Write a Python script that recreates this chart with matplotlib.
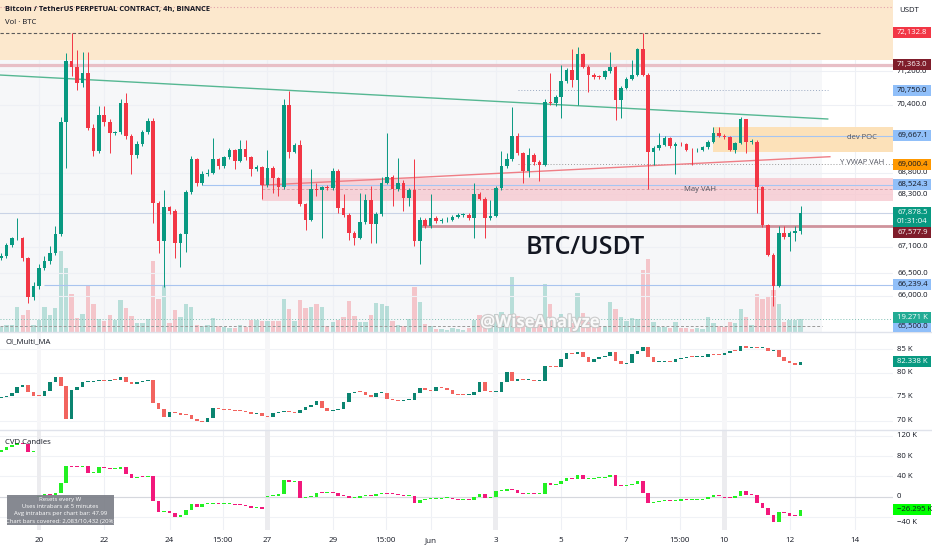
import numpy as np
import matplotlib.pyplot as plt
from matplotlib.patches import Rectangle
from matplotlib.lines import Line2D
from matplotlib.ticker import NullLocator
import matplotlib.patheffects as pe

plt.rcParams['font.family'] = ['Open Sans', 'DejaVu Sans']

W, H = 932, 550
AXIS_X = 893          # right price scale starts here (px)
TXT = '#131722'

# 4h bars, index 0 = 20 May 00:00
bar_start = -7
first_open = 66850
closes = [66880, 67130, 67290, 67290, 66850, 65970, 66210,
          66620, 66780, 66950, 67380, 69980, 71440, 71305, 70910, 71150, 69860,
          69300, 70150, 69980, 69740, 69750, 70450, 69650, 69210, 69470, 69750,
          70010, 68110, 67240, 68010, 67920, 67190, 67380, 68350, 69120, 68570,
          68780, 68800, 69110, 68950, 69160, 69320, 69080, 69360, 69160, 68880,
          68930, 68520, 68920, 68670, 68470, 70390, 69280, 69450, 68070, 67720,
          68420, 68400, 68470, 68440, 68850, 67990, 67820, 67420, 67300, 67670,
          68160, 67620, 67850, 68570, 68700, 68420, 68570, 68220, 68390, 67240,
          67720, 67570, 67750, 67690, 67700, 67720, 67780, 67820, 67830, 67750,
          68300, 68200, 67760, 67800, 68440, 68950, 69120, 69650, 69260, 68850,
          69210, 69050, 68990, 70470, 70430, 70575, 70965, 71225, 70985, 71605,
          71305, 71120, 71065, 71055, 71195, 71305, 70510, 70810, 71015, 71120,
          71730, 71120, 69280, 69380, 69450, 69610, 69420, 69470, 69460, 69340,
          69320, 69340, 69390, 69520, 69720, 69670, 69630, 69340, 69490, 70050,
          69520, 69530, 68480, 67590, 66920, 66220, 67420, 67320, 67420, 67450,
          67878.5]
highs = [66950, 67180, 67330, 67750, 67320, 66870, 66300,
         66700, 66900, 67120, 67580, 70100, 71650, 72130, 71715, 71660, 71660,
         69950, 70380, 70380, 70050, 69780, 70530, 70680, 69700, 69550, 69800,
         70080, 70080, 68150, 68390, 68030, 67960, 67420, 68400, 69180, 69150,
         68830, 68880, 69620, 69150, 69200, 69380, 69350, 69570, 69570, 69200,
         68980, 68960, 69320, 68950, 68700, 70530, 70720, 69500, 69570, 68100,
         68880, 68570, 68500, 68520, 68920, 68880, 68300, 67860, 67450, 68340,
         68300, 68490, 67900, 68690, 69720, 68740, 69150, 68620, 68440, 69110,
         67780, 67760, 68300, 67800, 67760, 67770, 67830, 67870, 67880, 67860,
         68570, 68350, 68230, 68180, 68500, 69300, 69250, 70340, 69720, 69290,
         69380, 69250, 69100, 70540, 71150, 70620, 71350, 71270, 71750, 71790,
         71630, 71350, 71160, 71115, 71240, 71670, 71330, 70850, 71060, 71470,
         71770, 72130, 71160, 69420, 69720, 69650, 69640, 69510, 69510, 69490,
         69370, 69370, 69420, 69560, 69880, 69880, 69700, 69650, 69520, 70110,
         70070, 69600, 69560, 68500, 67620, 66960, 67570, 67570, 67450, 67570,
         68030]
lows = [66800, 66840, 67100, 67250, 66780, 65840, 65900,
        66150, 66580, 66700, 66920, 67350, 68920, 71090, 70750, 70830, 69800,
        69190, 69250, 69900, 69260, 69680, 69700, 69600, 68760, 69150, 69420,
        69700, 67650, 66950, 66190, 67850, 66840, 66650, 66990, 68300, 68490,
        68520, 68720, 68760, 68880, 68900, 69120, 68880, 69050, 69100, 68720,
        68850, 68190, 68480, 68340, 68260, 68420, 69150, 69250, 68030, 67490,
        67680, 68260, 67290, 68400, 68400, 67880, 67780, 67260, 67150, 67270,
        67620, 67190, 67190, 67800, 68540, 68030, 68380, 67920, 68040, 67110,
        66720, 67530, 67530, 67640, 67650, 67670, 67690, 67760, 67790, 67710,
        67300, 68160, 67300, 67720, 67780, 68400, 68900, 69080, 69220, 68570,
        68700, 68990, 68610, 68950, 70400, 70370, 70090, 70910, 70830, 70400,
        71270, 70710, 71015, 71005, 71025, 71160, 70040, 70080, 70770, 70985,
        71080, 71080, 68420, 68990, 69340, 69420, 69380, 68760, 69420, 69300,
        68980, 69290, 69310, 69360, 69500, 69640, 69600, 69300, 69260, 69460,
        69260, 69480, 67880, 67550, 66880, 65760, 66190, 67280, 67000, 67220,
        67380]
volume_k = [8, 11, 11, 38, 26, 33, 11,
            18, 38, 26, 36, 122, 96, 57, 21, 27, 69,
            42, 20, 17, 26, 18, 48, 36, 24, 14, 14,
            20, 107, 50, 69, 14, 33, 23, 42, 38, 11,
            9, 11, 21, 9, 8, 6, 6, 11, 8, 18,
            18, 17, 17, 17, 17, 50, 35, 17, 48, 36,
            37, 42, 38, 9, 15, 18, 23, 47, 24, 15,
            15, 26, 44, 42, 39, 17, 11, 9, 20, 68,
            45, 12, 9, 5, 5, 3, 6, 5, 3, 6,
            18, 26, 24, 12, 27, 30, 23, 83, 24, 15,
            12, 17, 15, 72, 42, 15, 27, 18, 14, 59,
            29, 15, 9, 9, 9, 45, 35, 23, 17, 21,
            20, 93, 110, 15, 8, 8, 6, 15, 6, 6,
            5, 6, 5, 23, 14, 9, 8, 15, 14, 35,
            23, 11, 57, 50, 53, 63, 42, 15, 18, 18,
            19.271]

oi_first_open = 74.81
oi_closes = [75.02, 75.16, 75.72, 76.98, 77.39, 76.07, 75.23,
             75.09, 76.28, 78.02, 79.07, 77.25, 70.35, 76.50, 77.00, 78.02, 78.16,
             78.30, 78.44, 78.37, 78.58, 78.44, 79.21, 78.02, 77.74, 78.02, 78.30,
             78.58, 73.63, 72.44, 70.84, 71.75, 71.54, 71.19, 71.12, 70.28, 70.00,
             69.72, 70.49, 72.58, 72.37, 72.23, 72.16, 72.02, 71.95, 71.75, 71.47,
             71.54, 71.05, 70.77, 71.61, 71.88, 72.09, 71.82, 71.54, 72.23, 72.79,
             73.28, 74.12, 72.58, 72.02, 72.23, 72.44, 73.84, 75.86, 76.07, 76.00,
             75.37, 74.88, 75.72, 75.86, 74.53, 74.26, 74.05, 74.33, 74.36, 75.86,
             76.77, 76.42, 76.28, 77.12, 76.84, 76.42, 75.51, 75.30, 75.28, 75.37,
             76.07, 78.02, 76.21, 75.93, 76.00, 78.16, 80.11, 78.30, 78.65, 78.51,
             78.53, 78.30, 78.32, 81.51, 81.16, 81.14, 82.83, 84.09, 83.95, 84.44,
             83.25, 82.35, 82.83, 83.39, 83.53, 84.30, 82.55, 81.79, 81.99, 83.95,
             84.65, 85.48, 83.39, 82.21, 82.35, 82.55, 82.35, 82.90, 83.04, 83.39,
             83.25, 83.37, 83.40, 83.88, 83.74, 83.67, 84.09, 84.65, 84.58, 85.62,
             85.27, 85.45, 85.27, 85.30, 84.58, 84.79, 83.25, 82.55, 81.99, 81.65,
             82.338]

cvd_first_open = 88.6
cvd_closes = [91.8, 97.1, 101.7, 105.0, 103.0, 87.2, 90.5,
              1.3, 5.2, 3.3, 6.6, 27.6, 60.4, 59.0, 58.4, 59.7, 45.9,
              47.2, 57.7, 55.8, 53.8, 55.1, 59.0, 44.6, 36.1, 39.4, 38.7,
              40.7, -7.9, -29.5, -29.0, -32.8, -39.4, -36.1, -26.2, -14.4, -19.7,
              -15.1, -14.4, -13.1, -15.1, -14.4, -14.2, -16.4, -17.1, -17.7, -21.6,
              -21.0, -24.9, 1.3, 2.0, 4.6, 32.8, 29.5, 31.5, -2.0, 0.0,
              0.3, 6.6, 6.4, 7.9, 6.6, 2.0, 1.9, -3.3, -3.1, 2.0,
              3.3, 2.0, 4.6, 7.2, 5.2, 4.6, 3.3, 1.3, 1.4, -11.8,
              -6.6, -5.2, -4.6, -4.5, -3.3, -3.2, -4.6, -5.9, -5.9, -6.0,
              0.0, 4.6, -2.0, 0.0, 11.2, 11.8, 14.4, 13.1, 7.9, 5.2,
              5.3, 5.2, 5.2, 27.6, 22.3, 24.3, 30.8, 36.1, 34.8, 42.6,
              34.1, 34.8, 36.7, 37.4, 38.7, 42.6, 21.6, 21.0, 22.3, 24.9,
              31.5, 7.9, -11.8, -9.8, -8.5, -7.2, -8.5, -7.9, -5.2, -6.6,
              -6.6, -5.9, -5.2, -1.3, 2.6, 1.3, -2.0, -3.3, 2.0, 11.2,
              3.3, 3.2, -11.8, -23.0, -36.1, -50.5, -29.5, -32.8, -37.4, -38.0,
              -26.295]
cvd_resets = [0, 42, 84, 126]   # weekly reset bars

date_ticks = [0, 12, 24, 33.75, 42, 54, 63.75, 72, 84, 96, 108, 117.75, 126, 138, 150]
date_labels = ['20', '22', '24', '15:00', '27', '29', '15:00', 'Jun', '3', '5', '7',
               '15:00', '10', '12', '14']

price_ticks = [71200, 70400, 68800, 68300, 67100, 66500, 66000]
oi_ticks = [85, 80, 75, 70]
cvd_ticks = [120, 80, 40, 0, -40]

UP, DOWN = '#089981', '#f23645'

bars = np.arange(bar_start, bar_start + len(closes))


def opens_from(first, cl, resets=()):
    op = [first] + list(cl[:-1])
    for r in resets:
        op[r - bar_start] = 0.0
    return np.array(op, dtype=float)


def draw_candles(ax, x, o, c, hi=None, lo=None, up=UP, down=DOWN, width=0.66, min_body=0.0):
    o = np.asarray(o, dtype=float)
    c = np.asarray(c, dtype=float)
    cols = np.where(c >= o, up, down)
    if hi is not None:
        ax.vlines(x, lo, hi, colors=cols, lw=0.7, zorder=4)
    ax.bar(x, np.maximum(np.abs(c - o), min_body), width, bottom=np.minimum(o, c),
           color=cols, lw=0, zorder=5)


fig = plt.figure(figsize=(W / 100, H / 100), dpi=100)
fig.patch.set_facecolor('white')


def pane(top, bottom):
    return [0, 1 - bottom / H, AXIS_X / W, (bottom - top) / H]


ax_vol = fig.add_axes(pane(0, 332))
ax = fig.add_axes(pane(0, 332), sharex=ax_vol)
ax.patch.set_alpha(0)
ax_oi = fig.add_axes(pane(332, 430), sharex=ax_vol)
ax_cvd = fig.add_axes(pane(430, 530), sharex=ax_vol)

ax.set_yscale('log')
ax.set_ylim(65195, 72936)
ax_vol.set_ylim(0, 498)
ax_oi.set_ylim(68.05, 88.56)
ax_cvd.set_ylim(-65.6, 131.4)
ax_vol.set_xlim(-7.17, 157)

for a in (ax_vol, ax, ax_oi, ax_cvd):
    for s in a.spines.values():
        s.set_visible(False)
    a.set_xticks([])
    a.set_yticks([])
    a.yaxis.set_minor_locator(NullLocator())

# grid + background
ax_vol.axvspan(-7.17, 144, color='#f6f7f9', zorder=0, lw=0)
for a in (ax_vol, ax_oi, ax_cvd):
    for t in date_ticks:
        a.axvline(t, color='#eef0f5', lw=0.8, zorder=0.5)
for p in price_ticks:
    ax.axhline(p, color='#eef0f5', lw=0.8, zorder=0.5)
for v in oi_ticks:
    ax_oi.axhline(v, color='#f0f2f6', lw=0.8, zorder=0.5)
for v in cvd_ticks:
    ax_cvd.axhline(v, color='#f0f2f6', lw=0.8, zorder=0.5)
ax_cvd.axhline(0, color='#d6d8de', lw=0.8, zorder=1)
for r in cvd_resets:
    ax_cvd.axvspan(r - 0.45, r + 0.45, color='#ececef', zorder=0.6, lw=0)
    ax_oi.axvspan(r - 0.45, r + 0.45, color='#f6f6f8', zorder=0.6, lw=0)

# volume
opens = opens_from(first_open, closes)
vcols = np.where(np.array(closes) >= opens, '#089981', '#f23645')
ax_vol.bar(bars, volume_k, 0.8, color=vcols, alpha=0.26, lw=0, zorder=2)
ax_vol.axhline(volume_k[-1], color='#7fbfb3', lw=0.7, ls=(0, (1, 2)), zorder=2)

# zones and levels on the price pane
ax.axhspan(71472, 73500, color='#fce8cd', lw=0, zorder=1)
ax.axhline(72753, color='#e3a1aa', lw=0.8, ls=(0, (1, 2)), zorder=2)
ax.hlines(72132.8, -7.17, 144, color='#5a5a5a', lw=0.8, ls=(0, (3, 2)), zorder=2)
ax.axhline(71363.0, color='#e8bfc6', lw=2.3, zorder=2)
ax.hlines(70750.0, 88, 145, color='#9aa9c2', lw=0.7, ls=(0, (1, 2)), zorder=2)
ax.plot([-7.17, 145], [71110, 70061], color='#55b792', lw=1.0, zorder=3)
ax.fill_between([124, 157], 69291, 69864, color='#fce1b9', lw=0, zorder=1)
ax.hlines(69667.1, 88, 157, color='#a6c5f2', lw=0.8, zorder=2)
ax.hlines(69000.4, 88, 157, color='#9b9b9b', lw=0.7, ls=(0, (1, 2)), zorder=2)
ax.fill_between([41, 157], 68146, 68684, color='#f7c9d0', alpha=0.8, lw=0, zorder=1)
ax.hlines(68422, 41, 157, color='#d9a4ad', lw=0.7, ls=(0, (3, 2)), zorder=2)
ax.hlines(68524.3, 30, 157, color='#a6c5f2', lw=0.8, zorder=2)
ax.plot([41, 145.4], [68511, 69174], color='#ef7d85', lw=1.0, zorder=3)
ax.axhline(67878.5, color='#c9d3e6', lw=0.8, zorder=2)
ax.hlines(67577.9, 70, 157, color='#cf939c', lw=2.0, zorder=2)
ax.hlines(66239.4, 1, 157, color='#a9c4ef', lw=0.8, zorder=2)
ax.hlines(65326, -7.17, 144, color='#9a9a9a', lw=0.7, ls=(0, (3, 2)), zorder=2)

draw_candles(ax, bars, opens, closes, highs, lows, min_body=20)

ax.text(121.5, 68422, 'May VAH', fontsize=5.5, color='#50535e', ha='center', va='center', zorder=6)
ax.text(151.3, 69620, 'dev POC', fontsize=5.5, color='#50535e', ha='center', va='center', zorder=6)
ax.text(151.3, 69035, 'Y VWAP VAH', fontsize=5.5, color='#50535e', ha='center', va='center', zorder=6)

# OI pane
oi_opens = opens_from(oi_first_open, oi_closes)
draw_candles(ax_oi, bars, oi_opens, oi_closes, up='#0b8470', down='#f2645f', min_body=0.2)

# CVD pane
cvd_opens = opens_from(cvd_first_open, cvd_closes, cvd_resets)
draw_candles(ax_cvd, bars, cvd_opens, cvd_closes, up='#22f022', down='#f2187c', min_body=2.0)

# pane separators
for yp in (332, 430):
    fig.add_artist(Line2D([0, 1], [1 - yp / H] * 2, transform=fig.transFigure,
                          color='#e0e3eb', lw=1, zorder=3))


def scale_label(a, value, text, bg=None, fg=TXT, dy=0.0, h=11, z=5):
    y_disp = a.transData.transform((0, value))[1] + dy
    if bg is not None:
        fig.add_artist(Rectangle((AXIS_X / W, (y_disp - h / 2) / H), 38 / W, h / H,
                                 transform=fig.transFigure, fc=bg, ec='none', zorder=z))
    fig.text(897 / W, y_disp / H, text, fontsize=5.6, color=fg, ha='left', va='center',
             zorder=z + 1, linespacing=1.45)


for p in price_ticks:
    scale_label(ax, p, f'{p:,.1f}', z=3)
for v in oi_ticks:
    scale_label(ax_oi, v, f'{v} K', z=3)
for v in cvd_ticks:
    scale_label(ax_cvd, v, (f'{v} K' if v else '0').replace('-', '\u2212'),
                dy=(-5 if v < 0 else 0), z=3)

scale_label(ax, 72132.8, '72,132.8', '#f23645', 'white')
scale_label(ax, 71363.0, '71,363.0', '#7f1d2b', 'white')
scale_label(ax, 70750.0, '70,750.0', '#90bff9')
scale_label(ax, 69667.1, '69,667.1', '#90bff9')
scale_label(ax, 69000.4, '69,000.4', '#ff9800')
scale_label(ax, 68524.3, '68,524.3', '#90bff9')
scale_label(ax, 67577.9, '67,577.9', '#7f1d2b', 'white', dy=-6.5)
scale_label(ax, 67878.5, '67,878.5\n01:31:04', '#089981', 'white', dy=-4.6, h=20)
scale_label(ax, 66239.4, '66,239.4', '#90bff9')
scale_label(ax, 65311, '65,500.0', '#90bff9')
scale_label(ax_vol, volume_k[-1], '19.271 K', '#22ab94', 'white', dy=2)
scale_label(ax_oi, oi_closes[-1], '82.338 K', '#089981', 'white')
scale_label(ax_cvd, cvd_closes[-1], '\u221226.295 K', '#00ff00', TXT, dy=1)
fig.text(899 / W, 1 - 10.7 / H, 'USDT', fontsize=5.6, color=TXT, va='center')

# date axis
xt = ax_cvd.transData
for t, lab in zip(date_ticks, date_labels):
    xd = xt.transform((t, 0))[0]
    fig.text(xd / W, 1 - 541 / H, lab, fontsize=5.8, color=TXT, ha='center', va='center')

# titles and annotations
fig.text(5 / W, 1 - 10 / H, 'Bitcoin / TetherUS PERPETUAL CONTRACT, 4h, BINANCE',
         fontsize=5.4, weight='bold', color=TXT, va='center', zorder=7)
fig.text(5 / W, 1 - 22 / H, 'Vol \u00b7 BTC', fontsize=5.6, color=TXT, va='center', zorder=7)
fig.text(5 / W, 1 - 342 / H, 'OI_Multi_MA', fontsize=5.6, color=TXT, va='center', zorder=7)
fig.text(5 / W, 1 - 442 / H, 'CVD Candles', fontsize=5.6, color=TXT, va='center', zorder=7)

fig.text(585 / W, 1 - 247 / H, 'BTC/USDT', fontsize=18, color='#131722', ha='center',
         va='center', weight='semibold', zorder=7)
fig.text(540 / W, 1 - 322 / H, '@WiseAnalyze', fontsize=12, color='white', weight='bold',
         ha='center', va='center', alpha=0.9, zorder=7,
         path_effects=[pe.withStroke(linewidth=1.6, foreground='#c8c8c8')])

fig.add_artist(Rectangle((7 / W, 1 - 525 / H), 107 / W, 30 / H, transform=fig.transFigure,
                         fc='#7c7f88', ec='none', alpha=0.92, zorder=8))
info = ['Resets every W', 'Uses intrabars at 5 minutes',
        'Avg intrabars per chart bar: 47.99', 'Chart bars covered: 2,083/10,432 (20%)']
for k, line in enumerate(info):
    fig.text(60.5 / W, 1 - (499.5 + 7.2 * k) / H, line, fontsize=4.3, color='white',
             ha='center', va='center', zorder=9)

fig.savefig('out.png', dpi=100)
